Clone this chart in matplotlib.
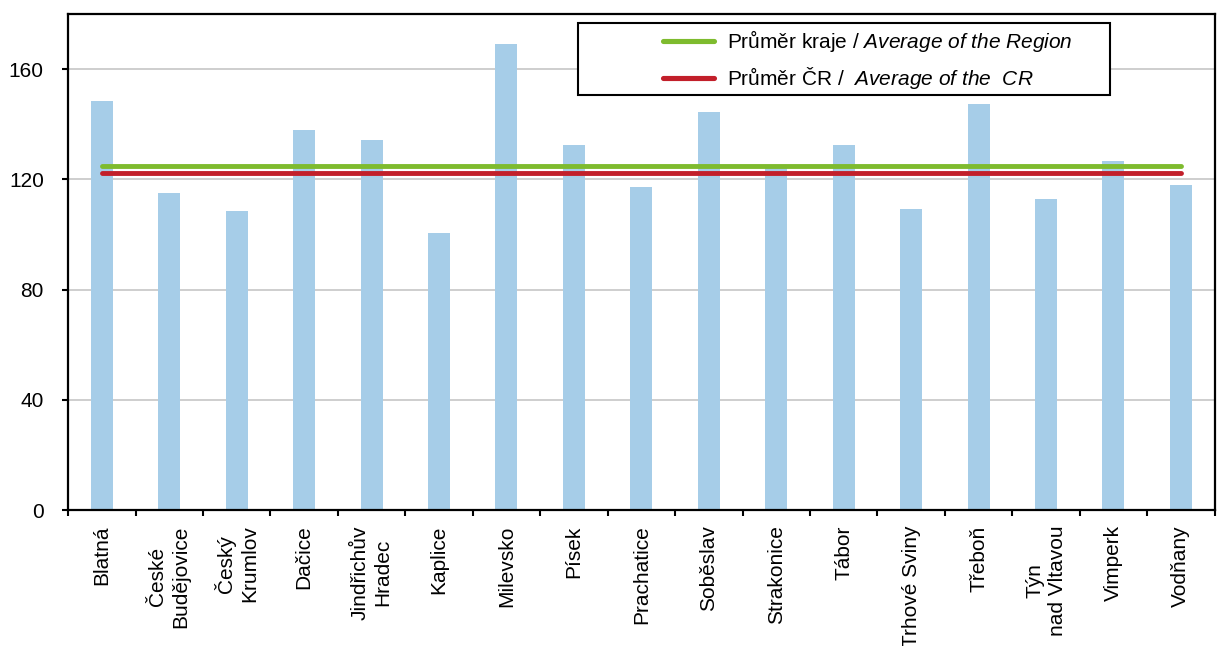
import numpy as np
import matplotlib.pyplot as plt
from matplotlib.patches import Rectangle

plt.rcParams["font.family"] = ["Liberation Sans", "DejaVu Sans"]
plt.rcParams["mathtext.fontset"] = "custom"
plt.rcParams["mathtext.rm"] = "Liberation Sans"
plt.rcParams["mathtext.it"] = "Liberation Sans:italic"

# data
towns = ["Blatná", "České\nBudějovice", "Český\nKrumlov", "Dačice", "Jindřichův\nHradec",
         "Kaplice", "Milevsko", "Písek", "Prachatice", "Soběslav", "Strakonice", "Tábor",
         "Trhové Sviny", "Třeboň", "Týn\nnad Vltavou", "Vimperk", "Vodňany"]
values = [148.5, 115.1, 108.6, 137.8, 134.1, 100.5, 169.1, 132.6, 117.3,
          144.3, 124.0, 132.6, 109.3, 147.2, 112.9, 126.8, 118.1]
avg_region = 124.8
avg_cr = 122.1
yticks = [0, 40, 80, 120, 160]
green = "#7ebb2e"
red = "#c21f2a"

# plot
fig = plt.figure(figsize=(12.17, 6.46), dpi=100)
ax = fig.add_axes([0.056, 0.2105, 0.942, 0.768])

x = np.arange(len(towns))
ax.bar(x, values, width=0.326, color="#a6cde8", zorder=2)
ax.plot([x[0], x[-1]], [avg_region] * 2, color=green, lw=3.5,
        solid_capstyle="round", zorder=3)
ax.plot([x[0], x[-1]], [avg_cr] * 2, color=red, lw=3.5,
        solid_capstyle="round", zorder=3)

ax.set_xlim(-0.5, len(towns) - 0.5)
ax.set_ylim(0, 180)
ax.set_yticks(yticks)
ax.yaxis.grid(True, color="#c6c6c6", lw=1.2, zorder=0)
ax.set_xticks(x)
ax.set_xticklabels(towns, rotation=90, ha="center", va="top",
                   multialignment="center", fontsize=15, linespacing=1.25)
ax.set_xticks(np.arange(-0.5, len(towns)), minor=True)
ax.tick_params(axis="x", which="major", length=0, pad=11)
ax.tick_params(axis="x", which="minor", length=4.5, width=1.5, direction="out")
ax.tick_params(axis="y", length=4.5, width=1.5, labelsize=15, pad=13)
for s in ax.spines.values():
    s.set_linewidth(1.6)
    s.set_color("black")

# legend box
ax.add_patch(Rectangle((0.4446, 0.8367), 0.4639, 0.1453, transform=ax.transAxes,
                       facecolor="white", edgecolor="black", lw=1.5, zorder=4))
leg_y = [0.946, 0.870]
leg_text = [r"Průměr kraje / $\mathit{Average\ of\ the\ Region}$",
            r"Průměr ČR /  $\mathit{Average\ of\ the\ \ CR}$"]
for yy, c, t in zip(leg_y, [green, red], leg_text):
    ax.plot([0.519, 0.563], [yy, yy], color=c, lw=3.7, solid_capstyle="round",
            transform=ax.transAxes, zorder=5)
    ax.text(0.5745, yy, t, transform=ax.transAxes, va="center", ha="left",
            fontsize=15, zorder=5)

fig.savefig("out.png", dpi=100)
